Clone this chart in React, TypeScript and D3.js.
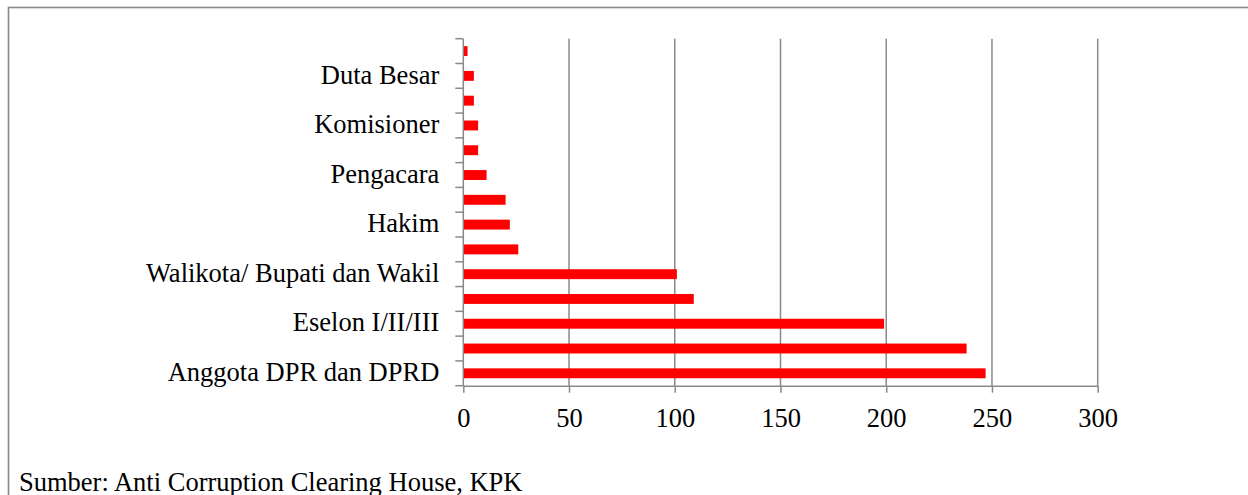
import React, { useRef, useEffect } from "react";
import * as d3 from "d3";

// categories listed bottom to top, as in the source chart
const categories = [
  "Anggota DPR dan DPRD",
  "Swasta",
  "Eselon I/II/III",
  "Lainnya",
  "Walikota/ Bupati dan Wakil",
  "Kepala Lembaga/Kementerian",
  "Hakim",
  "Gubernur",
  "Pengacara",
  "Jaksa",
  "Komisioner",
  "Polisi",
  "Duta Besar",
  "Korporasi",
];
const values = [247, 238, 199, 109, 101, 26, 22, 20, 11, 7, 7, 5, 5, 2];
const xTicks = [0, 50, 100, 150, 200, 250, 300];
const source = "Sumber: Anti Corruption Clearing House, KPK";

function App() {
  const svgRef = useRef<SVGSVGElement>(null);

  useEffect(() => {
    d3.select(svgRef.current).selectAll("*").remove();
    const width = 1248;
    const height = 495;
    const font = "'Liberation Serif', 'Times New Roman', serif";
    const gray = "#898989";
    const svg = d3.select(svgRef.current)
      .attr("width", width)
      .attr("height", height);

    // outer frame (runs off the right and bottom edges)
    svg.append("rect")
      .attr("x", 8.5).attr("y", 7.5)
      .attr("width", width + 20).attr("height", height + 20)
      .attr("fill", "white").attr("stroke", gray).attr("stroke-width", 1.6);

    const top = 38.7, bottom = 385.7, left = 463.3, right = 1097.7;

    // scales
    const xScale = d3.scaleLinear().domain([0, 300]).range([left, right]);
    const yScale = d3.scaleBand()
      .domain(categories)
      .range([bottom, top])
      .paddingInner(0.6)
      .paddingOuter(0.3);

    // gridlines
    svg.append("g")
      .selectAll("line")
      .data(xTicks.slice(1))
      .join("line")
        .attr("x1", d => xScale(d)).attr("x2", d => xScale(d))
        .attr("y1", top).attr("y2", bottom)
        .attr("stroke", gray).attr("stroke-width", 1.5);

    // bars
    svg.selectAll(".bar")
      .data(values)
      .join("rect")
        .attr("class", "bar")
        .attr("x", xScale(0))
        .attr("y", (v, i) => yScale(categories[i]))
        .attr("width", v => xScale(v) - xScale(0))
        .attr("height", yScale.bandwidth())
        .attr("fill", "#ff0000");

    // x axis
    const xAxis = d3.axisBottom(xScale)
      .tickValues(xTicks)
      .tickSize(7)
      .tickSizeOuter(0)
      .tickPadding(15.5)
      .tickFormat(d3.format("d"));
    const gx = svg.append("g")
      .attr("transform", `translate(0, ${bottom})`)
      .call(xAxis);
    gx.select(".domain").attr("stroke", gray).attr("stroke-width", 1.5);
    gx.selectAll(".tick line").attr("stroke", gray).attr("stroke-width", 1.5);
    gx.selectAll(".tick text")
      .attr("fill", "#000")
      .style("font-family", font)
      .style("font-size", "26.5px");

    // y axis: line, ticks at band boundaries, every other label
    const step = yScale.step();
    svg.append("line")
      .attr("x1", left).attr("x2", left)
      .attr("y1", top).attr("y2", bottom)
      .attr("stroke", gray).attr("stroke-width", 1.5);
    svg.append("g")
      .selectAll("line")
      .data(d3.range(categories.length + 1))
      .join("line")
        .attr("x1", left - 8).attr("x2", left)
        .attr("y1", i => bottom - i * step).attr("y2", i => bottom - i * step)
        .attr("stroke", gray).attr("stroke-width", 1.5);
    svg.append("g")
      .selectAll("text")
      .data(categories.filter((c, i) => i % 2 === 0))
      .join("text")
        .attr("x", left - 24)
        .attr("y", c => (yScale(c) as number) + yScale.bandwidth() / 2)
        .attr("dy", "0.29em")
        .attr("text-anchor", "end")
        .style("font-family", font)
        .style("font-size", "26.5px")
        .text(c => c);

    // source note
    svg.append("text")
      .attr("x", 19).attr("y", 491)
      .style("font-family", font)
      .style("font-size", "26.5px")
      .text(source);
  }, []);

  return (
    <div>
      <svg ref={svgRef} style={{ position: "absolute", left: 0, top: 0 }}></svg>
    </div>
  );
}

export default App;
